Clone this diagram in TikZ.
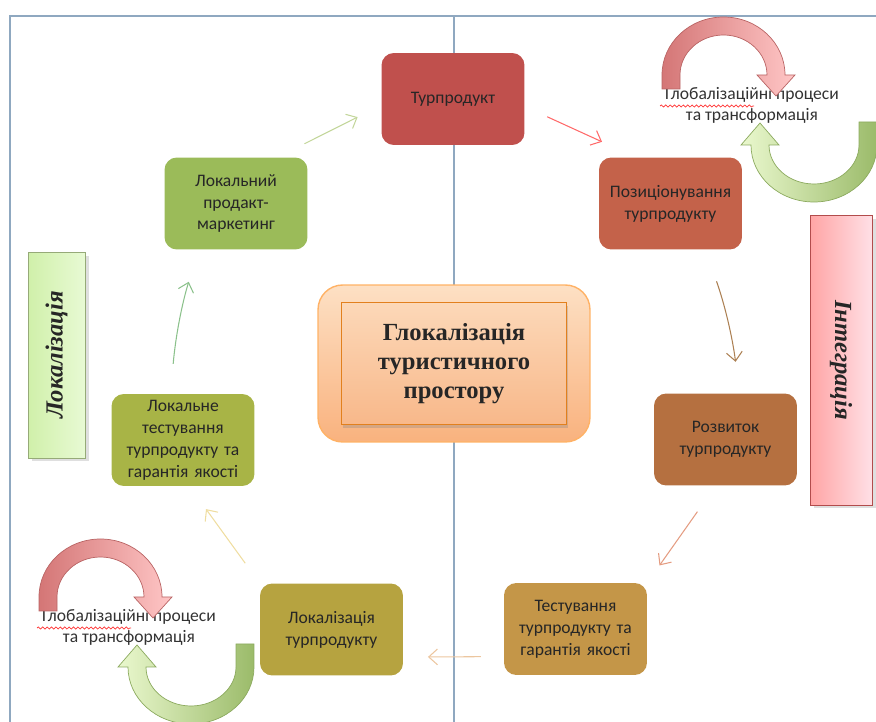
\documentclass[tikz,border=0pt]{standalone}
\usepackage{fontspec}
\setmainfont{Liberation Serif}
\newfontfamily\boxfont{Carlito}
\usetikzlibrary{arrows.meta,positioning,shapes,shadows,decorations.pathmorphing}

\definecolor{framecol}{RGB}{143,168,192}
\definecolor{turcol}{RGB}{192,80,77}
\definecolor{poscol}{RGB}{196,98,74}
\definecolor{markcol}{RGB}{155,187,89}
\definecolor{rozvcol}{RGB}{181,112,64}
\definecolor{testcol}{RGB}{196,150,72}
\definecolor{loktcol}{RGB}{182,163,64}
\definecolor{lokgcol}{RGB}{168,180,70}
\definecolor{arcred}{RGB}{212,118,118}
\definecolor{arcpink}{RGB}{255,198,198}
\definecolor{arcredline}{RGB}{185,100,100}
\definecolor{arclight}{RGB}{234,248,206}
\definecolor{arcgreen}{RGB}{155,187,106}
\definecolor{arcgreenline}{RGB}{140,170,95}
\definecolor{outtop}{RGB}{253,224,196}
\definecolor{outbot}{RGB}{249,178,126}
\definecolor{intop}{RGB}{252,216,184}
\definecolor{inbot}{RGB}{248,184,138}
\definecolor{lokleft}{RGB}{208,240,170}
\definecolor{lokright}{RGB}{232,250,212}
\definecolor{lokline}{RGB}{150,170,120}
\definecolor{intleft}{RGB}{255,165,165}
\definecolor{intright}{RGB}{255,224,230}

\begin{document}
\begin{tikzpicture}[x=0.02cm, y=-0.02cm]
\tikzstyle{block} = [rectangle, rounded corners=7pt, minimum width=2.86cm, minimum height=1.84cm, text width=2.6cm, align=center, font=\boxfont\fontsize{10}{12.5}\selectfont, text=black!85]
\tikzstyle{flow} = [-{Straight Barb[length=5pt,width=9pt]}, line width=0.6pt]
\tikzstyle{sidebox} = [rectangle, drop shadow={opacity=0.25, shadow xshift=2pt, shadow yshift=-2pt}]
\tikzstyle{sidetext} = [font=\bfseries\itshape\fontsize{14}{16}\selectfont, text=black!85]
\tikzstyle{glob} = [align=center, inner sep=0pt, font=\boxfont\fontsize{10}{12}\selectfont, text=black!80]

\useasboundingbox (0,0) rectangle (876,722);

% frame
\draw[framecol, line width=0.9pt] (10,722) -- (10,16) -- (876,16);
\draw[framecol, line width=0.9pt] (454,16) -- (454,722);

% cycle
\node (tur) [block, fill=turcol] at (453,99) {Турпродукт};
\node (pos) [block, fill=poscol] at (670.5,203.5) {Позиціонування турпродукту};
\node (rozv) [block, fill=rozvcol] at (725.5,439.5) {Розвиток турпродукту};
\node (test) [block, fill=testcol] at (575.5,629) {Тестування турпродукту та гарантія якості};
\node (lokt) [block, fill=loktcol] at (331.5,629.5) {Локалізація турпродукту};
\node (lokg) [block, fill=lokgcol] at (183,440) {Локальне тестування турпродукту та гарантія якості};
\node (mark) [block, fill=markcol] at (236,203.5) {Локальний\\продакт-\\маркетинг};

% centre
\node (glokout) [rectangle, rounded corners=14pt, minimum width=5.44cm, minimum height=3.14cm, top color=outtop, bottom color=outbot, draw=orange!60, line width=0.8pt] at (454,363.5) {};
\node (glok) [rectangle, minimum width=4.5cm, minimum height=2.44cm, top color=intop, bottom color=inbot, draw=orange!55!brown, drop shadow={opacity=0.3, shadow xshift=1pt, shadow yshift=-2pt}, font=\bfseries\fontsize{14}{16.5}\selectfont, text=black!85, align=center] at (glokout.center) {Глокалізація\\туристичного\\простору};

% side labels
\node (lok) [sidebox, minimum width=1.14cm, minimum height=4.12cm, left color=lokleft, right color=lokright, draw=lokline] at (56.5,355) {};
\node (loklab) [sidetext, rotate=90] at (lok.center) {Локалізація};
\node (integ) [sidebox, minimum width=1.24cm, minimum height=5.8cm, left color=intleft, right color=intright, draw=red!40!gray] at (841,360) {};
\node (integlab) [sidetext, rotate=-90] at (integ.center) {Інтеграція};

% globalisation loops
\node (globA) [glob] at (752,105) {Глобалізаційні процеси\\та трансформація};
\node (globB) [glob] at (129,627) {Глобалізаційні процеси\\та трансформація};
\foreach \g in {globA,globB}{
  \begin{scope}[shift={(\g.center)}]
    \draw[arcredline, line width=0.4pt, left color=arcred, right color=arcpink]
      (-90,-16) -- (-90,-30) .. controls (-90,-62) and (-62.5,-88) .. (-28.5,-88)
      .. controls (5.5,-88) and (33,-62) .. (33,-30) -- (43,-30) -- (24,-9) -- (5,-30) -- (15,-30)
      .. controls (15,-52) and (-4.5,-70) .. (-28.5,-70) .. controls (-52.5,-70) and (-72,-52) .. (-72,-30)
      -- (-72,-16) -- cycle;
    \draw[arcgreenline, line width=0.4pt, left color=arclight, right color=arcgreen]
      (125,17) -- (125,40) .. controls (125,71.5) and (96.8,97) .. (62,97)
      .. controls (27.2,97) and (-1,71.5) .. (-1,40) -- (-11,40) -- (8,18) -- (27,40) -- (17,40)
      .. controls (17,61.5) and (37.2,79) .. (62,79) .. controls (86.8,79) and (107,61.5) .. (107,40)
      -- (107,17) -- cycle;
    \draw[red!80, line width=0.4pt, decorate, decoration={snake, amplitude=0.6pt, segment length=2.5pt}] (-92,1) -- (2,1);
  \end{scope}
}

% arrows
\draw[flow, markcol!60] (mark.48) -- (tur.185) [shorten <=17pt, shorten >=15pt];
\draw[flow, red!45!pink] (tur.-6) -- (pos.127) [shorten <=14pt, shorten >=21pt];
\draw[flow, brown!70!gray, shorten <=19pt, shorten >=18pt] (pos.-53) to[bend left=6] (rozv.73);
\draw[flow, red!30!brown!60, shorten <=18pt, shorten >=12pt] (rozv.-102) -- (test.north east);
\draw[flow, orange!35!brown!45, shorten <=13pt, shorten >=14pt] (test.201) -- (lokt.-21);
\draw[flow, yellow!40!brown!45, shorten <=14pt, shorten >=16pt] (lokt.north west) -- (lokg.-82);
\draw[flow, green!30!gray!70, shorten <=17pt, shorten >=19pt] (lokg.105) to[bend left=6] (mark.-129);
\end{tikzpicture}
\end{document}
